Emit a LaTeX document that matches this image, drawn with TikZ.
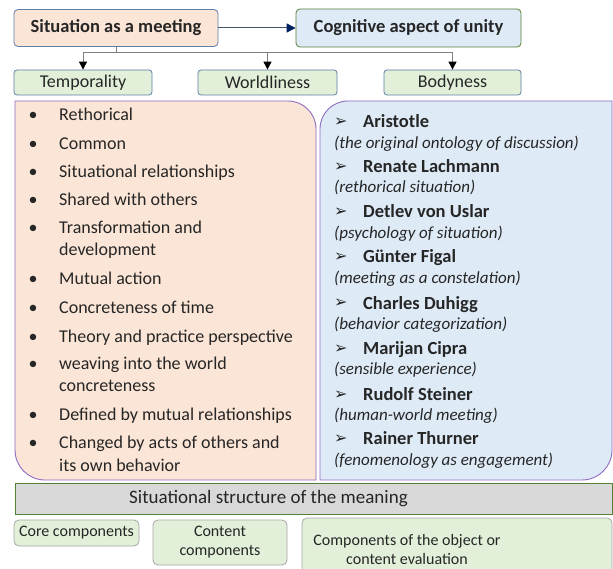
\documentclass[tikz,border=0pt]{standalone}
\usepackage{fontspec}
\setmainfont{Carlito}
\newfontfamily\djv{DejaVu Sans}
\usetikzlibrary{arrows.meta}
\definecolor{peach}{HTML}{FBE5D6}
\definecolor{lblue}{HTML}{DEEBF7}
\definecolor{lgreen}{HTML}{E2F0D9}
\definecolor{lgray}{HTML}{D9D9D9}
\definecolor{bgray}{HTML}{5B7FA6}
\definecolor{dgreen}{HTML}{548235}
\definecolor{purp}{HTML}{8E6CC0}
\definecolor{txt}{HTML}{262626}
\definecolor{navy}{HTML}{002060}
\definecolor{linegray}{HTML}{7F7F7F}
\definecolor{boxgray}{HTML}{A5A5A5}
\tikzset{
  topbox/.style={draw=bgray, rounded corners=4pt, inner sep=0pt, line width=0.8pt, text=txt,
    font=\fontsize{18.5}{22}\selectfont\bfseries},
  catbox/.style={draw=bgray, fill=lgreen, rounded corners=3pt, inner sep=0pt, line width=0.8pt,
    minimum height=25pt, text=txt, font=\fontsize{18}{22}\selectfont},
  bul/.style={anchor=base, inner sep=0pt, text=txt, font=\fontsize{18}{22}\selectfont},
  item/.style={anchor=base west, inner sep=0pt, text=txt, font=\fontsize{18}{22}\selectfont},
  arr/.style={anchor=base west, inner sep=0pt, text=txt, font=\djv\fontsize{16}{18}\selectfont},
  who/.style={anchor=base west, inner sep=0pt, text=txt, font=\fontsize{18.5}{22}\selectfont\bfseries},
  what/.style={anchor=base west, inner sep=0pt, text=txt, font=\fontsize{17}{20}\selectfont\itshape},
  panel/.style={draw=purp, line width=0.9pt},
  lowbox/.style={draw=boxgray, fill=lgreen, rounded corners=5pt, inner sep=0pt, line width=0.8pt},
  lowtext/.style={inner sep=0pt, text=txt, align=center, font=\fontsize{16}{19}\selectfont},
  treeline/.style={draw=linegray, line width=1pt, -{Triangle[length=8pt,width=8pt,color=black]}}
}
\begin{document}
\begin{tikzpicture}[x=1pt,y=-1pt]
\clip (0,0) rectangle (613,569);
\fill[white] (0,0) rectangle (613,569);

% top boxes
\node[topbox, fill=peach, minimum width=204pt, minimum height=37pt] (sit) at (116,28) {Situation as a meeting};
\node[topbox, fill=lblue, draw=dgreen, minimum width=225pt, minimum height=38pt] (cog) at (408.5,28) {Cognitive aspect of unity};
\draw[line width=1pt, draw={rgb,255:red,68;green,84;blue,106}, -{Triangle[length=9pt,width=9pt,color=navy]}] (sit.east) -- (cog.west);

% categories
\node[catbox, minimum width=138pt] (temp) at (83,82.5) {Temporality};
\node[catbox, minimum width=139pt] (world) at (267.5,82.5) {Worldliness};
\node[catbox, minimum width=137pt] (body) at (452.5,82.5) {Bodyness};
\draw[treeline] (sit.south) -- ++(0,6) -| (temp.north);
\draw[treeline] (sit.south) -- ++(0,6) -| (world.north);
\draw[treeline] (sit.south) -- ++(0,6) -| (body.north);

% panels
\draw[panel, fill=peach] (15,101) -- (288,101) .. controls (303.5,101) and (316,113.5) .. (316,129)
  -- (316,480) -- (45,480) .. controls (28.4,480) and (15,466.6) .. (15,450) -- cycle;
\draw[panel, fill=lblue] (320,129) .. controls (320,113.5) and (332.5,101) .. (348,101)
  -- (612,101) -- (612,450) .. controls (612,466.6) and (598.6,480) .. (582,480) -- (320,480) -- cycle;

% left list
\node[bul] (b1) at (33,121) {•};   \node[item] (l1) at (59,121) {Rethorical};
\node[bul] (b2) at (33,150) {•};   \node[item] (l2) at (59,150) {Common};
\node[bul] (b3) at (33,178) {•};   \node[item] (l3) at (59,178) {Situational relationships};
\node[bul] (b4) at (33,206) {•};   \node[item] (l4) at (59,206) {Shared with others};
\node[bul] (b5) at (33,234) {•};   \node[item] (l5) at (59,234) {Transformation and};
                                   \node[item] (l5b) at (59,256) {development};
\node[bul] (b6) at (33,285) {•};   \node[item] (l6) at (59,285) {Mutual action};
\node[bul] (b7) at (33,313) {•};   \node[item] (l7) at (59,313) {Concreteness of time};
\node[bul] (b8) at (33,342) {•};   \node[item] (l8) at (59,342) {Theory and practice perspective};
\node[bul] (b9) at (33,369) {•};   \node[item] (l9) at (59,369) {weaving into the world};
                                   \node[item] (l9b) at (59,391) {concreteness};
\node[bul] (b10) at (33,420) {•};  \node[item] (l10) at (59,420) {Defined by mutual relationships};
\node[bul] (b11) at (33,448) {•};  \node[item] (l11) at (59,448) {Changed by acts of others and};
                                   \node[item] (l11b) at (59,471) {its own behavior};

% right list
\node[arr] (a1) at (334,127) {➢}; \node[who] (n1) at (363,128) {Aristotle};
\node[what] (d1) at (334,148.5) {(the original ontology of discussion)};
\node[arr] (a2) at (334,171.5) {➢}; \node[who] (n2) at (363,172.5) {Renate Lachmann};
\node[what] (d2) at (334,193) {(rethorical situation)};
\node[arr] (a3) at (334,217) {➢}; \node[who] (n3) at (363,218) {Detlev von Uslar};
\node[what] (d3) at (334,238.5) {(psychology of situation)};
\node[arr] (a4) at (334,262) {➢}; \node[who] (n4) at (363,263) {Günter Figal};
\node[what] (d4) at (334,283.5) {(meeting as a constelation)};
\node[arr] (a5) at (334,308) {➢}; \node[who] (n5) at (363,309) {Charles Duhigg};
\node[what] (d5) at (334,329.5) {(behavior categorization)};
\node[arr] (a6) at (334,353) {➢}; \node[who] (n6) at (363,354) {Marijan Cipra};
\node[what] (d6) at (334,374.5) {(sensible experience)};
\node[arr] (a7) at (334,399) {➢}; \node[who] (n7) at (363,400) {Rudolf Steiner};
\node[what] (d7) at (334,420) {(human-world meeting)};
\node[arr] (a8) at (334,443.5) {➢}; \node[who] (n8) at (363,444.5) {Rainer Thurner};
\node[what] (d8) at (334,465.5) {(fenomenology as engagement)};

% bottom bar
\node[draw=dgreen, fill=lgray, line width=0.9pt, inner sep=0pt, minimum width=597pt, minimum height=31pt] (bar) at (313.5,498.5) {};
\node[inner sep=0pt, text=txt, font=\fontsize{19}{22}\selectfont] (bartext) at (268.5,498.5) {Situational structure of the meaning};

% bottom boxes
\node[lowbox, minimum width=125pt, minimum height=26pt] (core) at (76.5,533) {};
\node[lowtext] (coretext) at (core.center) {Core components};
\node[lowbox, minimum width=134pt, minimum height=45pt] (content) at (220,542.5) {};
\node[lowtext] (contenttext) at (content.center) {Content\\components};
\node[lowbox, minimum width=310pt, minimum height=60pt] (object) at (457,548) {};
\node[lowtext] (objecttext) at (407,550) {Components of the object or\\content evaluation};
\end{tikzpicture}
\end{document}
